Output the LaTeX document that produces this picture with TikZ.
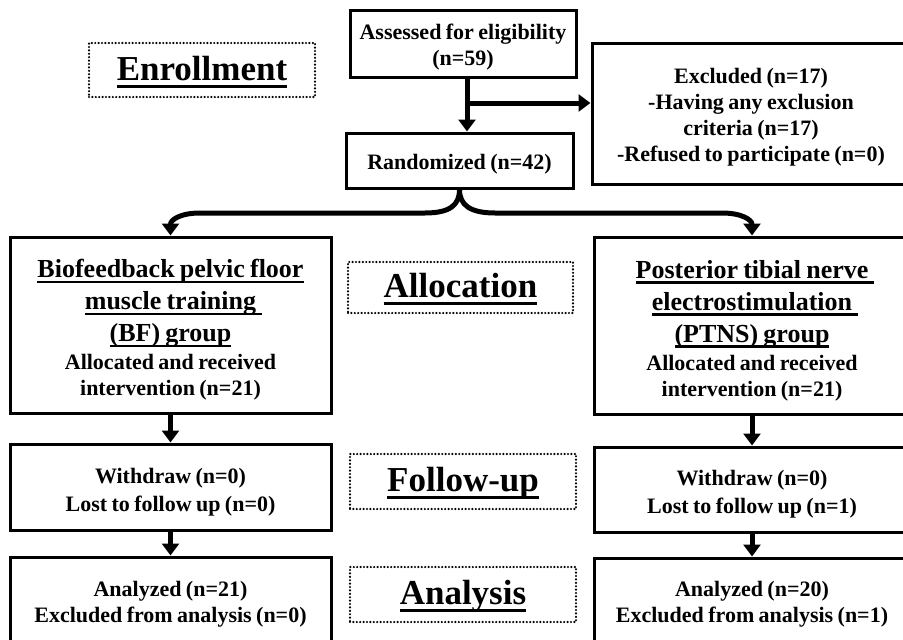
\documentclass[tikz,border=0pt]{standalone}
\usepackage{fontspec}
\setmainfont{Liberation Serif}[WordSpace=0.8]
\usetikzlibrary{arrows.meta}
\newsavebox\ulbox
\newcommand\myul[4]{\sbox\ulbox{#1}\leavevmode\rlap{\rule[-#3]{\dimexpr\wd\ulbox+#4\relax}{#2}}\usebox\ulbox}
\newcommand\tul[2][0pt]{{\fontsize{26}{32}\selectfont\myul{#2}{2.4pt}{5.5pt}{#1}}}
\newcommand\hul[1]{\myul{#1}{3pt}{7.5pt}{0pt}}
\begin{document}
\begin{tikzpicture}[x=1pt,y=-1pt,
  frame/.style={draw, line width=3pt, rectangle, inner sep=0pt},
  txt/.style={inner sep=0pt, align=center, font=\bfseries\fontsize{22}{26}\selectfont},
  phase/.style={draw, line width=2.4pt, dash pattern=on 0pt off 3.4pt, line cap=round,
    rectangle, inner sep=0pt},
  phtxt/.style={inner sep=0pt, font=\bfseries\fontsize{35}{40}\selectfont},
  arr/.style={line width=5pt, -{Triangle[length=12pt,width=17pt]}}]
\useasboundingbox (0,0) rectangle (903,640);
\clip (0,0) rectangle (903,640);
\fill[white] (0,0) rectangle (903,640);

\node[frame, minimum width=226pt, minimum height=67pt] (assess) at (463,43.5) {};
\node[txt] (assesst) at ([yshift=-4pt]assess.center) {Assessed for eligibility\\(n=59)};
\node[frame, minimum width=227pt, minimum height=55pt] (rand) at (459.5,160.5) {};
\node[txt] (randt) at ([yshift=-4pt]rand.center) {Randomized (n=42)};
\node[frame, minimum width=318pt, minimum height=141pt] (excl) at (751,113.5) {};
\node[txt] (exclt) at ([yshift=-4pt]excl.center)
  {Excluded (n=17)\\-Having any exclusion\\criteria (n=17)\\-Refused to participate (n=0)};

\node[frame, minimum width=321pt, minimum height=176pt] (bf) at (170.5,325) {};
\node[txt] (bft) at ([yshift=-5pt]bf.center)
  {\tul{Biofeedback pelvic floor}\\[6pt]\tul[6pt]{muscle training}\\[6pt]\tul{(BF) group}\\[2pt]
   Allocated and received\\intervention (n=21)};
\node[frame, minimum width=316pt, minimum height=177pt] (ptns) at (752,325.5) {};
\node[txt] (ptnst) at ([yshift=-5pt]ptns.center)
  {\tul[6pt]{Posterior tibial nerve}\\[6pt]\tul[6pt]{electrostimulation}\\[6pt]\tul{(PTNS) group}\\[2pt]
   Allocated and received\\intervention (n=21)};

\node[frame, minimum width=321pt, minimum height=86pt] (wl) at (170.5,487) {};
\node[txt] (wlt) at ([yshift=-5pt]wl.center) {Withdraw (n=0)\\[2pt]Lost to follow up (n=0)};
\node[frame, minimum width=316pt, minimum height=85pt] (wr) at (752,489.5) {};
\node[txt] (wrt) at ([yshift=-5pt]wr.center) {Withdraw (n=0)\\[2pt]Lost to follow up (n=1)};
\node[frame, minimum width=321pt, minimum height=86pt] (al) at (170.5,600) {};
\node[txt] (alt) at ([yshift=-4pt]al.center) {Analyzed (n=21)\\Excluded from analysis (n=0)};
\node[frame, minimum width=316pt, minimum height=85pt] (ar) at (752,600.5) {};
\node[txt] (art) at ([yshift=-4pt]ar.center) {Analyzed (n=20)\\Excluded from analysis (n=1)};

\node[phase, minimum width=226pt, minimum height=54pt] (enroll) at (202,70) {};
\node[phtxt] (enrollt) at ([yshift=-2pt]enroll.center) {\hul{Enrollment}};
\node[phase, minimum width=225pt, minimum height=51pt] (alloc) at (460.5,287.5) {};
\node[phtxt] (alloct) at ([yshift=-2pt]alloc.center) {\hul{Allocation}};
\node[phase, minimum width=226pt, minimum height=55pt] (follow) at (463,481.5) {};
\node[phtxt] (followt) at ([yshift=-2pt]follow.center) {\hul{Follow-up}};
\node[phase, minimum width=226pt, minimum height=55pt] (anal) at (463,594.5) {};
\node[phtxt] (analt) at ([yshift=-2pt]anal.center) {\hul{Analysis}};

\coordinate (br) at (467,103);
\draw[arr] ([xshift=4pt]assess.south) -- ([xshift=4pt]assess.south |- rand.north);
\draw[arr] (br) -- (br -| excl.west);

\draw[arr] (rand.south) .. controls (459.5,205) and (450,213) .. (425,213) -- (200,213)
  .. controls (180,213) and (170.5,220) .. (bf.north);
\draw[arr] (rand.south) .. controls (459.5,205) and (470,213) .. (495,213) -- (722,213)
  .. controls (742,213) and (752,220) .. (ptns.north);

\draw[arr] (bf.south) -- (wl.north);
\draw[arr] (ptns.south) -- (wr.north);
\draw[arr] (wl.south) -- (al.north);
\draw[arr] (wr.south) -- (ar.north);
\end{tikzpicture}
\end{document}
